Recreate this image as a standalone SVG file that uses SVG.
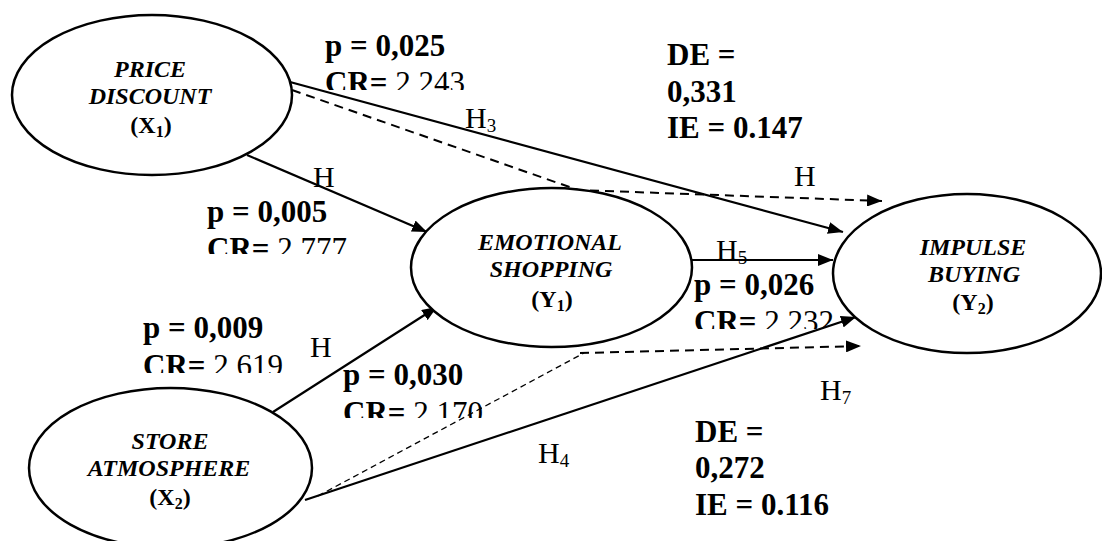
<svg xmlns="http://www.w3.org/2000/svg" width="1102" height="541" viewBox="0 0 1102 541">
<style>
text{font-family:"Liberation Serif","Times New Roman",serif;fill:#000}
.node ellipse{fill:#fff;stroke:#000;stroke-width:2.5}
.nl{font-size:24px;font-weight:bold;font-style:italic;text-anchor:middle}
.nv{font-size:24px;font-weight:bold;text-anchor:middle}
.b{font-size:31px;font-weight:bold}
.r{font-size:30px}
.sub{font-size:19px}
.ln{fill:none;stroke:#000;stroke-width:2.2}
.ds{fill:none;stroke:#000;stroke-width:2;stroke-dasharray:9 6}
.dt{fill:none;stroke:#000;stroke-width:1.3;stroke-dasharray:6 4}
</style>
<defs>
<marker id="ah" markerUnits="userSpaceOnUse" markerWidth="16" markerHeight="12" refX="15" refY="6" orient="auto">
<path d="M0,0 L15,6 L0,12 z" fill="#000"/>
</marker>
<clipPath id="c1"><rect x="300" y="60" width="200" height="30"/></clipPath>
<clipPath id="c2"><rect x="190" y="226" width="200" height="28"/></clipPath>
<clipPath id="c3"><rect x="130" y="343" width="200" height="30"/></clipPath>
<clipPath id="c4"><rect x="330" y="390" width="200" height="28"/></clipPath>
<clipPath id="c5"><rect x="680" y="300" width="200" height="29"/></clipPath>
</defs>

<g id="connectors">
<line class="ln" x1="247" y1="155" x2="427" y2="232" marker-end="url(#ah)"/>
<line class="ln" x1="273" y1="412" x2="437" y2="307" marker-end="url(#ah)"/>
<line class="ln" x1="290" y1="82" x2="843" y2="232" marker-end="url(#ah)"/>
<line class="ln" x1="692" y1="260" x2="833" y2="260" marker-end="url(#ah)"/>
<line class="ln" x1="305" y1="500" x2="856" y2="317" marker-end="url(#ah)"/>
<polyline class="ds" points="292,90 578,190 882,201" marker-end="url(#ah)"/>
<polyline class="dt" points="318,496 584,353"/>
<polyline class="ds" points="580,353 861,346" marker-end="url(#ah)"/>
</g>

<g id="price-discount" class="node">
<ellipse cx="152" cy="95" rx="140" ry="80"/>
<text class="nl" x="150" y="77">PRICE</text>
<text class="nl" x="150" y="104">DISCOUNT</text>
<text class="nv" x="151" y="133">(X<tspan font-size="16" dy="4">1</tspan><tspan dy="-4">)</tspan></text>
</g>

<g id="emotional-shopping" class="node">
<ellipse cx="551.5" cy="267.5" rx="140.5" ry="79.5"/>
<text class="nl" x="550" y="250">EMOTIONAL</text>
<text class="nl" x="551" y="277">SHOPPING</text>
<text class="nv" x="552" y="307">(Y<tspan font-size="16" dy="4">1</tspan><tspan dy="-4">)</tspan></text>
</g>

<g id="impulse-buying" class="node">
<ellipse cx="967" cy="273.5" rx="134" ry="79.5"/>
<text class="nl" x="973" y="255">IMPULSE</text>
<text class="nl" x="974" y="282">BUYING</text>
<text class="nv" x="973" y="310">(Y<tspan font-size="16" dy="4">2</tspan><tspan dy="-4">)</tspan></text>
</g>

<g id="store-atmosphere" class="node">
<ellipse cx="170.5" cy="468" rx="141.5" ry="80"/>
<text class="nl" x="170" y="449">STORE</text>
<text class="nl" x="169" y="476">ATMOSPHERE</text>
<text class="nv" x="170" y="505">(X<tspan font-size="16" dy="4">2</tspan><tspan dy="-4">)</tspan></text>
</g>

<g id="labels">
<text class="b" x="325" y="56">p = 0,025</text>
<text class="b" x="325" y="93" clip-path="url(#c1)">CR= <tspan font-weight="normal">2,243</tspan></text>
<text class="b" x="207" y="222">p = 0,005</text>
<text class="b" x="207" y="259" clip-path="url(#c2)">CR= <tspan font-weight="normal">2,777</tspan></text>
<text class="b" x="143" y="338">p = 0,009</text>
<text class="b" x="143" y="376" clip-path="url(#c3)">CR= <tspan font-weight="normal">2,619</tspan></text>
<text class="b" x="343" y="385">p = 0,030</text>
<text class="b" x="343" y="423" clip-path="url(#c4)">CR= <tspan font-weight="normal">2,170</tspan></text>
<text class="b" x="694" y="295">p = 0,026</text>
<text class="b" x="694" y="332" clip-path="url(#c5)">CR= <tspan font-weight="normal">2,232</tspan></text>

<text class="b" x="667" y="65">DE =</text>
<text class="b" x="667" y="102">0,331</text>
<text class="b" x="667" y="138">IE = 0.147</text>
<text class="b" x="695" y="442">DE =</text>
<text class="b" x="695" y="478">0,272</text>
<text class="b" x="695" y="515">IE = 0.116</text>

<text class="r" x="465" y="128">H<tspan class="sub" dy="4">3</tspan></text>
<text class="r" x="313" y="187">H</text>
<text class="r" x="794" y="186">H</text>
<text class="r" x="716" y="260">H<tspan class="sub" dy="4">5</tspan></text>
<text class="r" x="310" y="357">H</text>
<text class="r" x="820" y="400">H<tspan class="sub" dy="4">7</tspan></text>
<text class="r" x="538" y="463">H<tspan class="sub" dy="4">4</tspan></text>
</g>
</svg>
